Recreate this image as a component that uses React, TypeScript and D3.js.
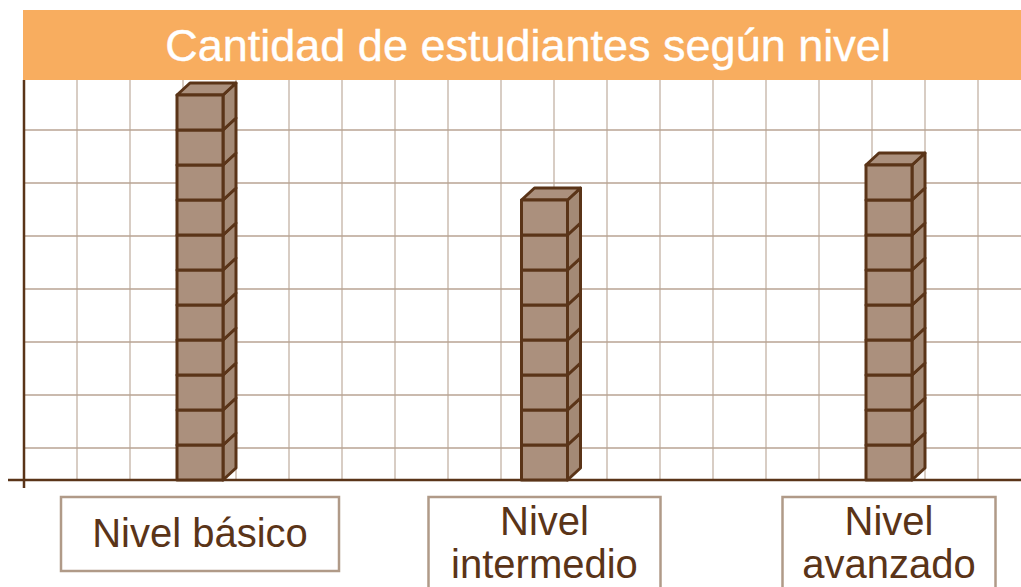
import * as d3 from "d3";

const title = "Cantidad de estudiantes según nivel";
const categories = ["Nivel básico", "Nivel intermedio", "Nivel avanzado"];
const counts = [11, 8, 9];
const labelLines = [["Nivel básico"], ["Nivel", "intermedio"], ["Nivel", "avanzado"]];

export default function App() {
    const width = 1021;
    const height = 587;
    const baseY = 480;
    const axisX = 24;
    const headerTop = 10;
    const headerBottom = 80;
    const grid = 53;
    const cube = 35;
    const cubeW = 46;
    const depthX = 13;
    const depthY = 12;
    const boxWidths = [278, 232, 213];
    const brown = "#5a3418";

    const maxCount = d3.max(counts) ?? 0;
    const xScale = d3.scalePoint<string>().domain(categories).range([200, 889]);
    const yScale = d3.scaleLinear().domain([0, maxCount]).range([baseY, baseY - maxCount * cube]);

    const vLines = d3.range(axisX + grid, width, grid);
    const hLines = d3.range(130, baseY, grid);

    const cubes = categories.flatMap((c, i) =>
        d3.range(counts[i]).map((k) => ({ c, k, top: k === counts[i] - 1 }))
    );

    return (
        <svg
            width={width}
            height={height}
            viewBox={`0 0 ${width} ${height}`}
            style={{ position: "absolute", left: 0, top: 0, background: "#fff" }}
            fontFamily="'Liberation Sans', Arial, sans-serif"
        >
            {vLines.map((x) => (
                <line key={`v${x}`} x1={x} x2={x} y1={headerBottom} y2={baseY} stroke="#cbbcb1" strokeWidth={1.5} />
            ))}
            {hLines.map((y) => (
                <line key={`h${y}`} x1={axisX} x2={width} y1={y} y2={y} stroke="#b8a393" strokeWidth={1.5} />
            ))}

            <rect x={23} y={headerTop} width={width - 23} height={headerBottom - headerTop} fill="#f8ad5f" />
            <text x={528} y={61} textAnchor="middle" fontSize={45} fill="#fff" stroke="#fff" strokeWidth={0.4}>
                {title}
            </text>

            <line x1={axisX} x2={axisX} y1={headerBottom} y2={488} stroke={brown} strokeWidth={2.5} />
            <line x1={8} x2={width} y1={baseY} y2={baseY} stroke={brown} strokeWidth={2.5} />

            {cubes.map(({ c, k, top }) => {
                const cx = xScale(c) ?? 0;
                const x0 = cx - cubeW / 2;
                const x1 = cx + cubeW / 2;
                const yb = yScale(k);
                const yt = yScale(k + 1);
                const side = `M${x1},${yb} L${x1 + depthX},${yb - depthY} L${x1 + depthX},${yt - depthY} L${x1},${yt} Z`;
                const topFace = `M${x0},${yt} L${x0 + depthX},${yt - depthY} L${x1 + depthX},${yt - depthY} L${x1},${yt} Z`;
                return (
                    <g key={`${c}-${k}`} stroke={brown} strokeWidth={3} strokeLinejoin="round">
                        <path d={side} fill="#a48a76" />
                        {top && <path d={topFace} fill="#ab907d" />}
                        <rect x={x0} y={yt} width={cubeW} height={cube} fill="#ab907d" />
                    </g>
                );
            })}

            {categories.map((c, i) => {
                const cx = xScale(c) ?? 0;
                const w = boxWidths[i];
                const lines = labelLines[i];
                const single = lines.length === 1;
                return (
                    <g key={c}>
                        <rect
                            x={cx - w / 2}
                            y={497}
                            width={w}
                            height={single ? 74 : 120}
                            fill="#fff"
                            stroke="#b09a88"
                            strokeWidth={2.5}
                        />
                        {lines.map((t, j) => (
                            <text
                                key={t}
                                x={cx}
                                y={single ? 547 : 535 + j * 43}
                                textAnchor="middle"
                                fontSize={40}
                                fill={brown}
                            >
                                {t}
                            </text>
                        ))}
                    </g>
                );
            })}
        </svg>
    );
}
